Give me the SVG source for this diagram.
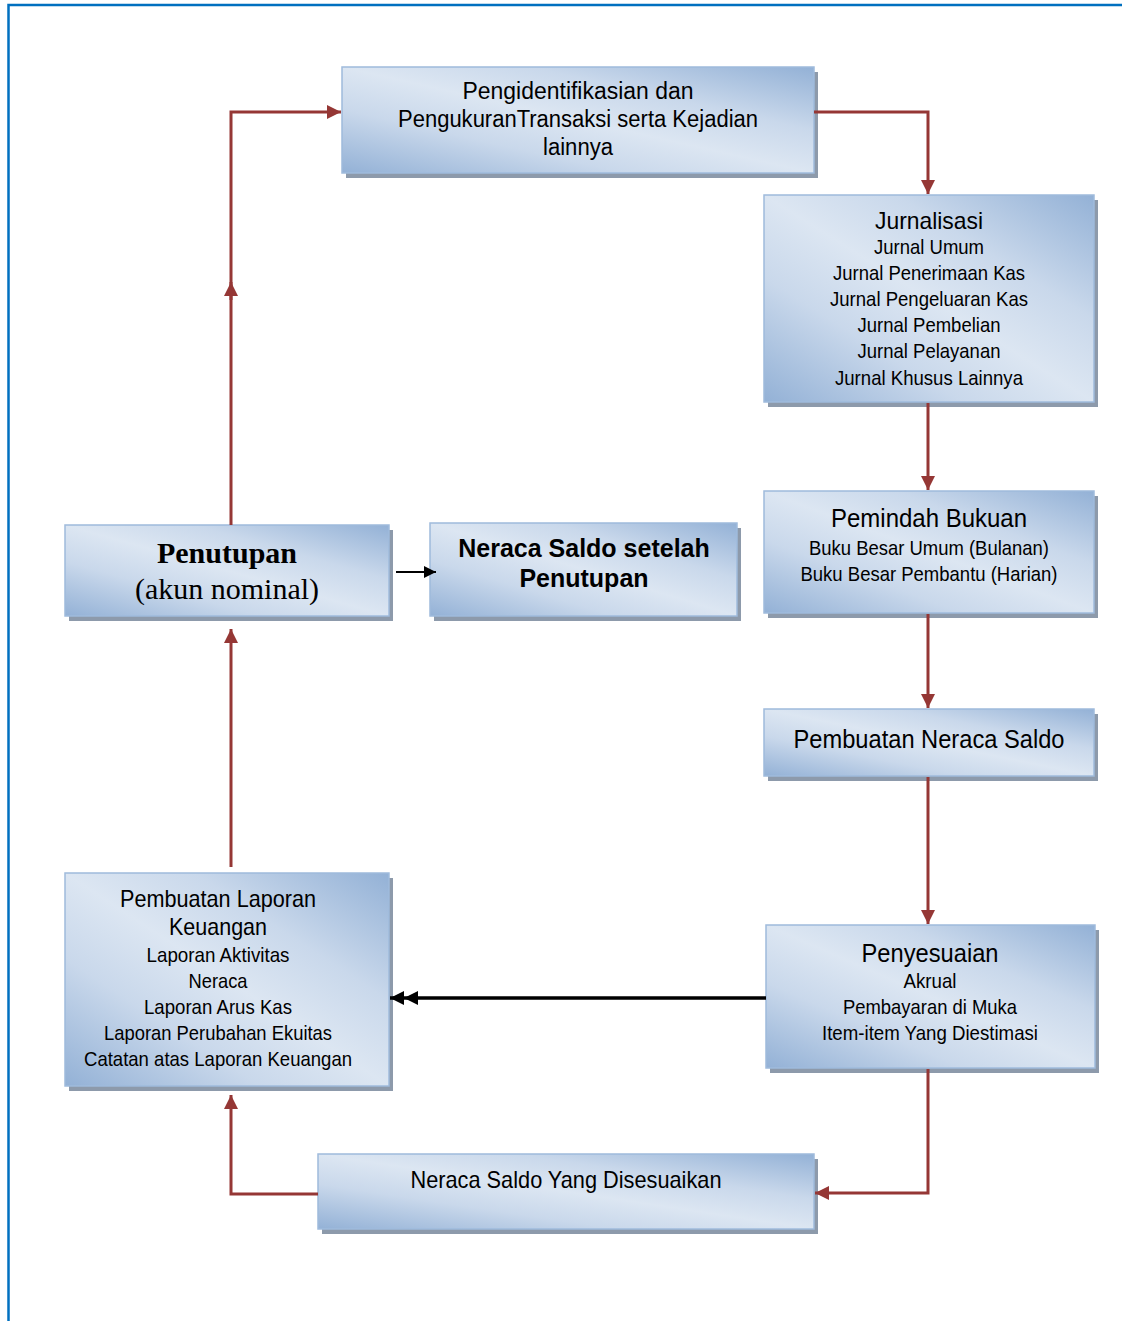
<svg xmlns="http://www.w3.org/2000/svg" width="1122" height="1321" viewBox="0 0 1122 1321">
<defs>
<linearGradient id="g" x1="1" y1="0" x2="0" y2="1">
<stop offset="0" stop-color="#93b1d6"/>
<stop offset="0.3" stop-color="#c9d8eb"/>
<stop offset="0.5" stop-color="#dce6f2"/>
<stop offset="0.7" stop-color="#c9d8eb"/>
<stop offset="1" stop-color="#93b1d6"/>
</linearGradient>
<marker id="ar" markerUnits="userSpaceOnUse" markerWidth="14" markerHeight="14" refX="14" refY="7" orient="auto">
<path d="M0,0 L14,7 L0,14 z" fill="#953735"/>
</marker>
<marker id="ab" markerUnits="userSpaceOnUse" markerWidth="12" markerHeight="12" refX="12" refY="6" orient="auto">
<path d="M0,0 L12,6 L0,12 z" fill="#000"/>
</marker>
<marker id="ad" markerUnits="userSpaceOnUse" markerWidth="28" markerHeight="14" refX="28" refY="7" orient="auto">
<path d="M14,0 L28,7 L14,14 z M0,0 L14,7 L0,14 z" fill="#000"/>
</marker>
</defs>
<style>
.sh{fill:#8d9aab}
.bx{fill:url(#g);stroke:#9fbbdc;stroke-width:1.5}
.t{font-family:"Liberation Sans Narrow","Liberation Sans",Arial,sans-serif;fill:#000;text-anchor:middle}
.rc{fill:none;stroke:#953735;stroke-width:3;marker-end:url(#ar)}
</style>
<path d="M8.5,1321 V5 H1122" fill="none" stroke="#0070c0" stroke-width="2.5"/>

<g id="n1">
<rect class="sh" x="346" y="72" width="472" height="106"/>
<rect class="bx" x="342" y="67" width="472" height="106"/>
<text class="t" font-size="23" x="578" y="99" textLength="231" lengthAdjust="spacingAndGlyphs">Pengidentifikasian  dan</text>
<text class="t" font-size="23" x="578" y="127" textLength="360" lengthAdjust="spacingAndGlyphs">PengukuranTransaksi serta Kejadian</text>
<text class="t" font-size="23" x="578" y="155" textLength="70" lengthAdjust="spacingAndGlyphs">lainnya</text>
</g>

<g id="n2">
<rect class="sh" x="768" y="200" width="330" height="207"/>
<rect class="bx" x="764" y="195" width="330" height="207"/>
<text class="t" font-size="24" x="929" y="229" textLength="108" lengthAdjust="spacingAndGlyphs">Jurnalisasi</text>
<text class="t" font-size="21" x="929" y="254" textLength="110" lengthAdjust="spacingAndGlyphs">Jurnal Umum</text>
<text class="t" font-size="21" x="929" y="280" textLength="192" lengthAdjust="spacingAndGlyphs">Jurnal Penerimaan Kas</text>
<text class="t" font-size="21" x="929" y="306" textLength="198" lengthAdjust="spacingAndGlyphs">Jurnal Pengeluaran Kas</text>
<text class="t" font-size="21" x="929" y="332" textLength="143" lengthAdjust="spacingAndGlyphs">Jurnal Pembelian</text>
<text class="t" font-size="21" x="929" y="358" textLength="143" lengthAdjust="spacingAndGlyphs">Jurnal Pelayanan</text>
<text class="t" font-size="21" x="929" y="385" textLength="188" lengthAdjust="spacingAndGlyphs">Jurnal Khusus Lainnya</text>
</g>

<g id="n3">
<rect class="sh" x="768" y="496" width="330" height="122"/>
<rect class="bx" x="764" y="491" width="330" height="122"/>
<text class="t" font-size="26" x="929" y="527" textLength="196" lengthAdjust="spacingAndGlyphs">Pemindah Bukuan</text>
<text class="t" font-size="21" x="929" y="555" textLength="240" lengthAdjust="spacingAndGlyphs">Buku Besar Umum (Bulanan)</text>
<text class="t" font-size="21" x="929" y="581" textLength="257" lengthAdjust="spacingAndGlyphs">Buku Besar Pembantu (Harian)</text>
</g>

<g id="n4">
<rect class="sh" x="768" y="714" width="330" height="67"/>
<rect class="bx" x="764" y="709" width="330" height="67"/>
<text class="t" font-size="26" x="929" y="748" textLength="271" lengthAdjust="spacingAndGlyphs">Pembuatan Neraca Saldo</text>
</g>

<g id="n5">
<rect class="sh" x="770" y="930" width="329" height="143"/>
<rect class="bx" x="766" y="925" width="329" height="143"/>
<text class="t" font-size="26" x="930" y="962" textLength="137" lengthAdjust="spacingAndGlyphs">Penyesuaian</text>
<text class="t" font-size="21" x="930" y="988" textLength="53" lengthAdjust="spacingAndGlyphs">Akrual</text>
<text class="t" font-size="21" x="930" y="1014" textLength="174" lengthAdjust="spacingAndGlyphs">Pembayaran di Muka</text>
<text class="t" font-size="21" x="930" y="1040" textLength="216" lengthAdjust="spacingAndGlyphs">Item-item Yang Diestimasi</text>
</g>

<g id="n6">
<rect class="sh" x="322" y="1159" width="496" height="75"/>
<rect class="bx" x="318" y="1154" width="496" height="75"/>
<text class="t" font-size="24" x="566" y="1188" textLength="311" lengthAdjust="spacingAndGlyphs">Neraca Saldo Yang Disesuaikan</text>
</g>

<g id="n7">
<rect class="sh" x="69" y="530" width="324" height="91"/>
<rect class="bx" x="65" y="525" width="324" height="91"/>
<text font-family="'Liberation Serif','Times New Roman',serif" font-weight="bold" font-size="30" text-anchor="middle" x="227" y="563">Penutupan</text>
<text font-family="'Liberation Serif','Times New Roman',serif" font-size="30" text-anchor="middle" x="227" y="599">(akun nominal)</text>
</g>

<g id="n8">
<rect class="sh" x="434" y="528" width="307" height="93"/>
<rect class="bx" x="430" y="523" width="307" height="93"/>
<text font-family="'Liberation Sans',Arial,sans-serif" font-weight="bold" font-size="25" text-anchor="middle" x="584" y="557">Neraca Saldo setelah</text>
<text font-family="'Liberation Sans',Arial,sans-serif" font-weight="bold" font-size="25" text-anchor="middle" x="584" y="587">Penutupan</text>
</g>

<g id="n9">
<rect class="sh" x="69" y="878" width="324" height="213"/>
<rect class="bx" x="65" y="873" width="324" height="213"/>
<text class="t" font-size="24" x="218" y="907" textLength="196" lengthAdjust="spacingAndGlyphs">Pembuatan Laporan</text>
<text class="t" font-size="24" x="218" y="935" textLength="98" lengthAdjust="spacingAndGlyphs">Keuangan</text>
<text class="t" font-size="21" x="218" y="962" textLength="143" lengthAdjust="spacingAndGlyphs">Laporan Aktivitas</text>
<text class="t" font-size="21" x="218" y="988" textLength="59" lengthAdjust="spacingAndGlyphs">Neraca</text>
<text class="t" font-size="21" x="218" y="1014" textLength="148" lengthAdjust="spacingAndGlyphs">Laporan Arus Kas</text>
<text class="t" font-size="21" x="218" y="1040" textLength="228" lengthAdjust="spacingAndGlyphs">Laporan Perubahan Ekuitas</text>
<text class="t" font-size="21" x="218" y="1066" textLength="268" lengthAdjust="spacingAndGlyphs">Catatan atas Laporan Keuangan</text>
</g>

<g id="connectors">
<path class="rc" d="M231,525 V112 H341"/>
<path class="rc" d="M231,300 V282"/>
<path class="rc" d="M814,112 H928 V194"/>
<path class="rc" d="M928,403 V490"/>
<path class="rc" d="M928,614 V708"/>
<path class="rc" d="M928,777 V924"/>
<path class="rc" d="M928,1069 V1193 H815"/>
<path class="rc" d="M318,1194 H231 V1095"/>
<path class="rc" d="M231,867 V629"/>
<path d="M396,572 H436" fill="none" stroke="#000" stroke-width="2" marker-end="url(#ab)"/>
<path d="M766,998 H390" fill="none" stroke="#000" stroke-width="3.5" marker-end="url(#ad)"/>
</g>
</svg>
